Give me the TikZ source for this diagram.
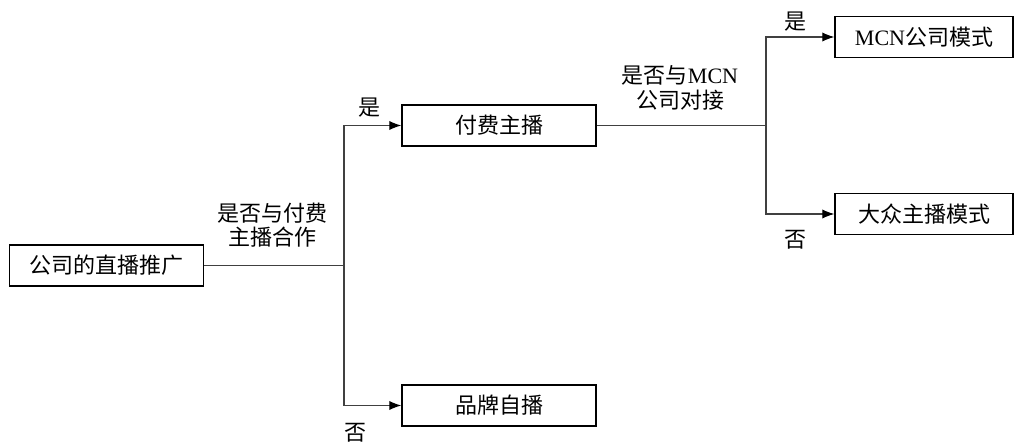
\documentclass[tikz,border=0pt]{standalone}
\usepackage{fontspec}
\setmainfont{Noto Sans CJK SC}
\newfontfamily\latin{Liberation Serif}
\usetikzlibrary{arrows.meta,calc}

\tikzset{
  box/.style={draw=black,line width=1.1pt,minimum width=194*0.75pt,minimum height=41*0.75pt,inner sep=0pt},
  link/.style={draw=black!75,line width=0.8pt},
  arr/.style={link,-{Latex[length=9pt,width=7pt,color=black]}},
  lbl/.style={align=center,inner sep=0pt,font=\fontsize{16.5}{18.5}\selectfont}
}

\begin{document}
\begin{tikzpicture}[x=0.75pt,y=-0.75pt,font=\fontsize{16.5}{18.5}\selectfont]
\useasboundingbox (0,0) rectangle (1020,445);

% boxes
\node[box] (root) at (106.5,265.5) {公司的直播推广};
\node[box] (paid) at (499,125.5) {付费主播};
\node[box] (self) at (499,405.5) {品牌自播};
\node[box,minimum width=178*0.75pt] (mcn) at (924,37) {{\latin MCN}公司模式};
\node[box,minimum width=178*0.75pt] (mass) at (924,214) {大众主播模式};

% branch points
\coordinate (j1) at (344,265.5);
\coordinate (j2) at (766,125.5);

% connectors
\draw[link] (root.east) -- (j1);
\draw[arr] (j1) |- (paid.west);
\draw[arr] (j1) |- (self.west);
\draw[link] (paid.east) -- (j2);
\draw[arr] (j2) |- (mcn.west);
\draw[arr] (j2) |- (mass.west);

% labels
\node[lbl] (q1) at (272,225) {是否与付费\\主播合作};
\node[lbl] (q2) at (680,88) {是否与{\latin MCN}\\公司对接};
\node[lbl] (y1) at (369,108) {是};
\node[lbl] (n1) at (355,433) {否};
\node[lbl] (y2) at (795,22) {是};
\node[lbl] (n2) at (795,240) {否};

\end{tikzpicture}
\end{document}
